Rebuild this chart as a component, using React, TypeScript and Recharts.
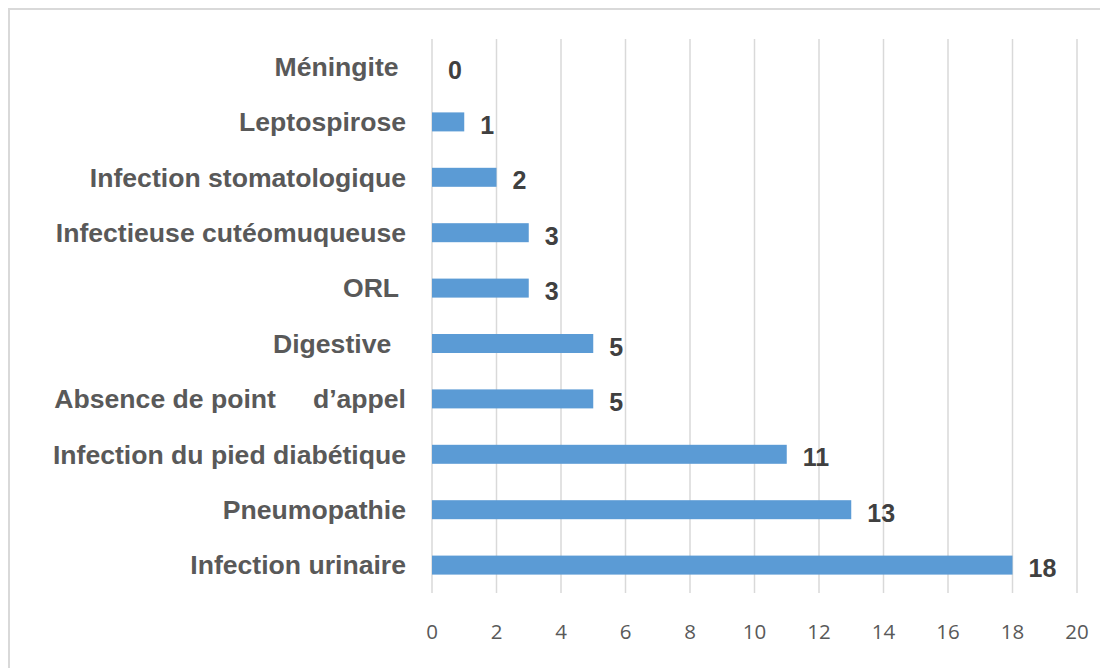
import React from 'react';
import { BarChart, Bar, XAxis, YAxis, CartesianGrid } from 'recharts';

// catégories (du haut vers le bas) et effectifs
const categories = [
  'Méningite ',
  'Leptospirose',
  'Infection stomatologique',
  'Infectieuse cutéomuqueuse',
  'ORL ',
  'Digestive  ',
  'Absence de point     d\u2019appel',
  'Infection du pied diabétique',
  'Pneumopathie',
  'Infection urinaire',
];
const counts = [0, 1, 2, 3, 3, 5, 5, 11, 13, 18];
const xTicks = [0, 2, 4, 6, 8, 10, 12, 14, 16, 18, 20];

const data = categories.map((name, i) => ({ name, value: counts[i] }));

const CategoryTick = (props: any) => {
  const { x, y, payload } = props;
  return (
    <text
      x={x - 26}
      y={y}
      textAnchor='end'
      dominantBaseline='central'
      xmlSpace='preserve'
      style={{ whiteSpace: 'pre' }}
      fill='#595959'
      fontFamily='"Liberation Sans", Arial, sans-serif'
      fontWeight='bold'
      fontSize={26.6}
    >
      {payload.value}
    </text>
  );
};

// barre + étiquette de valeur (affichée aussi quand la barre vaut 0)
const BarWithLabel = (props: any) => {
  const { x, y, width, height, fill, payload } = props;
  const w = Math.max(0, Number(width) || 0);
  return (
    <g>
      {w > 0 && <rect x={x} y={y} width={w} height={height} fill={fill} />}
      <text
        x={Number(x) + w + 16}
        y={Number(y) + Number(height) / 2 + 3}
        textAnchor='start'
        dominantBaseline='central'
        fill='#404040'
        fontFamily='"Liberation Sans", Arial, sans-serif'
        fontWeight='bold'
        fontSize={25}
      >
        {payload.value}
      </text>
    </g>
  );
};

export default function App() {
  return (
    <div
      style={{
        width: 1100,
        height: 660,
        borderTop: '2px solid #d9d9d9',
        borderLeft: '2px solid #d9d9d9',
        background: '#fff',
      }}
    >
      <BarChart
        width={1098}
        height={658}
        data={data}
        layout='vertical'
        margin={{ top: 29, right: 31, bottom: 35, left: 0 }}
      >
        <CartesianGrid horizontal={false} stroke='#d9d9d9' strokeWidth={1.5} />
        <XAxis
          type='number'
          domain={[0, 20]}
          ticks={xTicks}
          axisLine={false}
          tickLine={false}
          tickSize={6}
          tickMargin={25}
          height={40}
          tick={{ fill: '#595959', fontSize: 20.5, fontFamily: '"Open Sans", sans-serif' }}
        />
        <YAxis
          type='category'
          dataKey='name'
          width={422}
          axisLine={false}
          tickLine={false}
          tickSize={0}
          tickMargin={0}
          interval={0}
          tick={<CategoryTick />}
        />
        <Bar
          dataKey='value'
          fill='#5b9bd5'
          barSize={19}
          isAnimationActive={false}
          shape={<BarWithLabel />}
        />
      </BarChart>
    </div>
  );
}
